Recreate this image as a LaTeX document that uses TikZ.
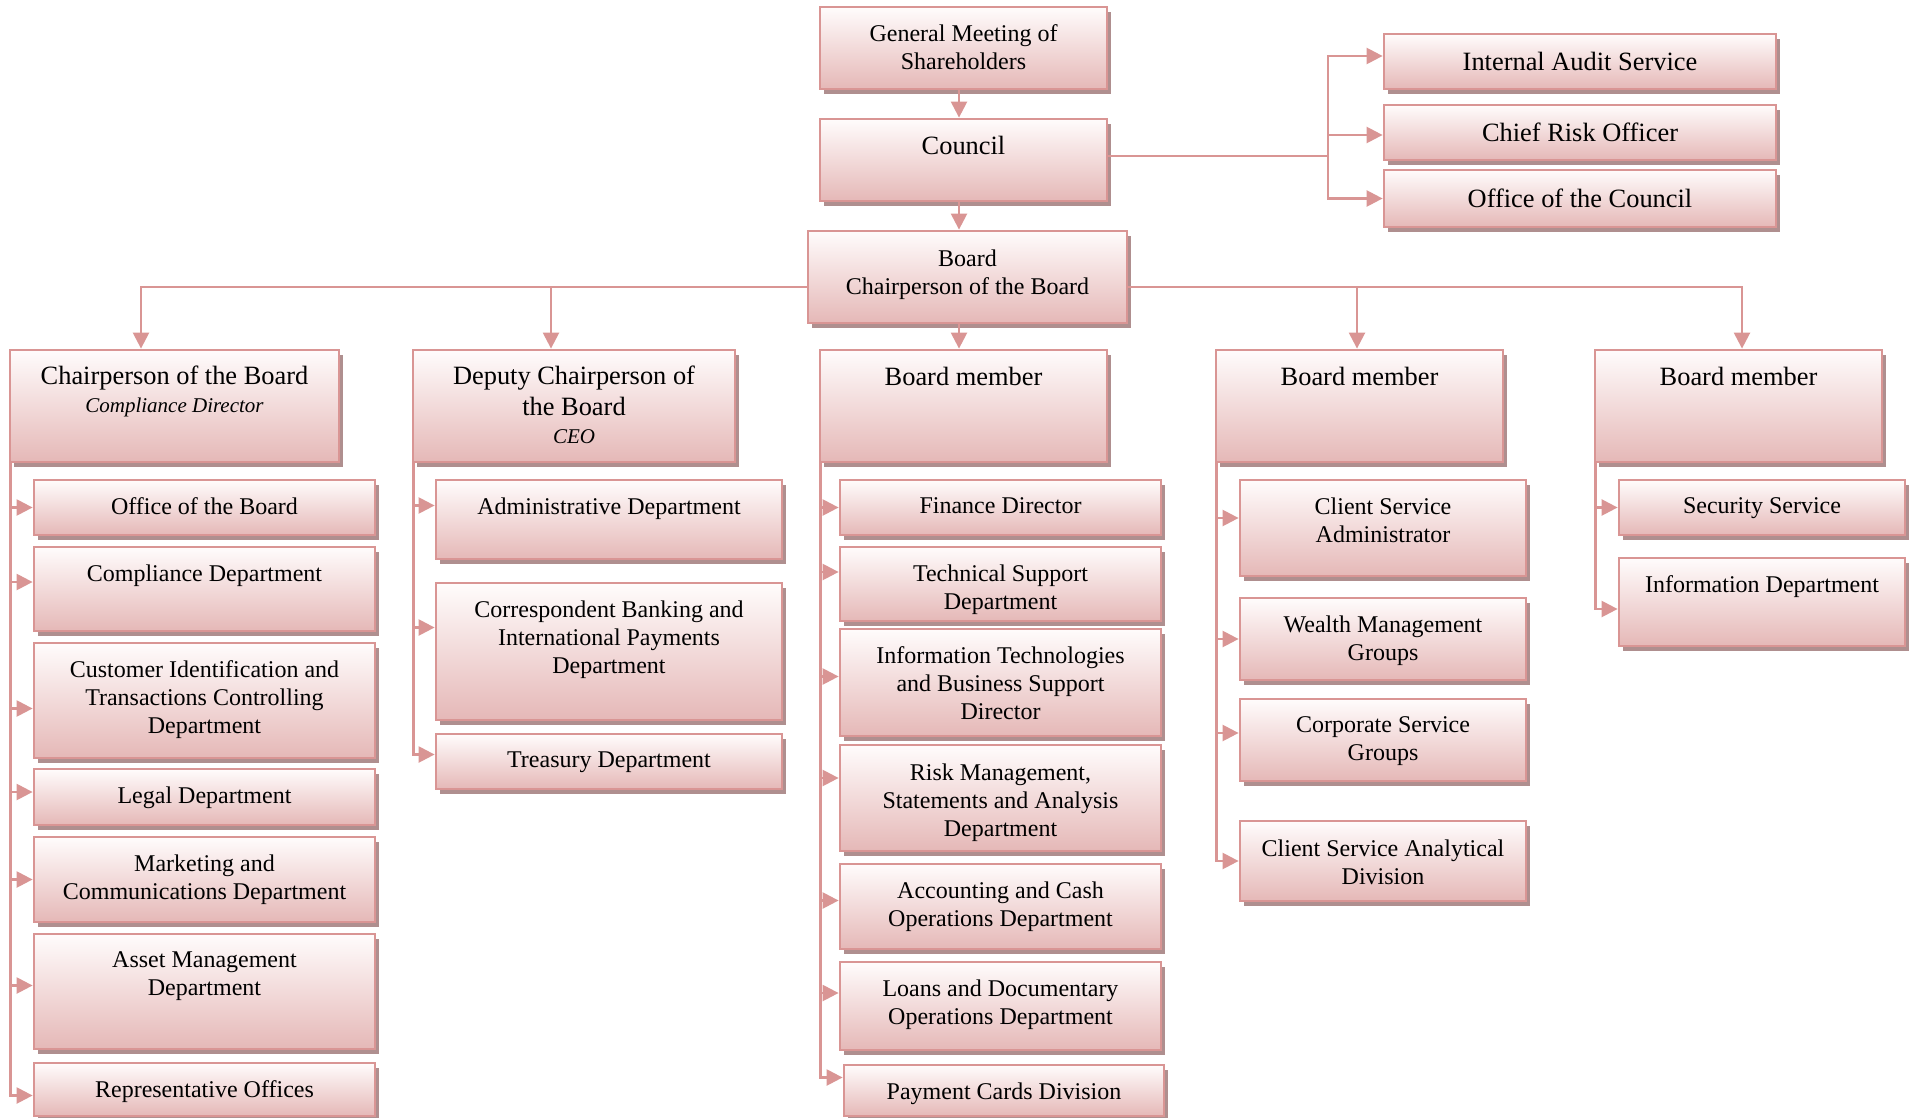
\documentclass[tikz,border=0pt]{standalone}
\usepackage{fontspec}
\setmainfont{Liberation Serif}
\usetikzlibrary{arrows.meta,fit,shadows}
\definecolor{bd}{RGB}{217,149,148}
\definecolor{fb}{RGB}{229,184,183}
\definecolor{ft}{RGB}{255,252,252}
\definecolor{shc}{RGB}{175,143,143}
\tikzset{
  obx/.style={draw=bd, line width=1.4pt, top color=ft, bottom color=fb,
    drop shadow={shadow xshift=2pt, shadow yshift=-2.5pt, fill=shc, opacity=1},
    inner sep=0pt},
  smalltxt/.style={font=\fontsize{12}{14}\selectfont, align=center, inner sep=0pt},
  bigtxt/.style={font=\fontsize{13.2}{15.2}\selectfont, align=center, inner sep=0pt},
  conn/.style={draw=bd, line width=1.2pt},
  arr/.style={conn, -{Triangle[length=8pt,width=8pt]}},
}
% name, x1, y1, x2, y2, text style, yshift of text, text
\newcommand\obox[8]{%
  \node[obx, fit={(#2,#3)(#4,#5)}] (#1) {};
  \node[#6, anchor=north] (#1-t) at ([yshift=#7-1.8pt]#1.north) {#8};
}
\begin{document}
\begin{tikzpicture}[x=0.5pt,y=-0.5pt]
\useasboundingbox (0,0) rectangle (1910,1118);
% top
\obox{gm}{820}{7}{1107}{89}{smalltxt}{-7.5pt}{General Meeting of\\Shareholders}
\obox{council}{820}{119}{1107}{201}{bigtxt}{-7.2pt}{Council}
\obox{board}{808}{231}{1127}{323}{smalltxt}{-8.2pt}{Board\\Chairperson of the Board}
\obox{ias}{1384}{34}{1776}{89}{bigtxt}{-7.7pt}{Internal Audit Service}
\obox{cro}{1384}{105}{1776}{160}{bigtxt}{-7.7pt}{Chief Risk Officer}
\obox{ooc}{1384}{170}{1776}{227}{bigtxt}{-8.2pt}{Office of the Council}
% level 2
\obox{chair}{10}{350}{339}{462}{bigtxt}{-6.8pt}{Chairperson of the Board\\[-1.2pt]{\fontsize{10.5}{12}\selectfont\itshape Compliance Director}}
\obox{dep}{413}{350}{735}{462}{bigtxt}{-6.8pt}{Deputy Chairperson of\\the Board\\[-1.2pt]{\fontsize{10.5}{12}\selectfont\itshape CEO}}
\obox{bm1}{820}{350}{1107}{462}{bigtxt}{-7.2pt}{Board member}
\obox{bm2}{1216}{350}{1503}{462}{bigtxt}{-7.2pt}{Board member}
\obox{bm3}{1595}{350}{1882}{462}{bigtxt}{-7.2pt}{Board member}
% column 1
\obox{c1a}{34}{480}{375}{535}{smalltxt}{-7.5pt}{Office of the Board}
\obox{c1b}{34}{547}{375}{631}{smalltxt}{-7.5pt}{Compliance Department}
\obox{c1c}{34}{643}{375}{758}{smalltxt}{-7.5pt}{Customer Identification and\\Transactions Controlling\\Department}
\obox{c1d}{34}{769}{375}{825}{smalltxt}{-7.5pt}{Legal Department}
\obox{c1e}{34}{837}{375}{922}{smalltxt}{-7.5pt}{Marketing and\\Communications Department}
\obox{c1f}{34}{934}{375}{1049}{smalltxt}{-7.5pt}{Asset Management\\Department}
\obox{c1g}{34}{1063}{375}{1116}{smalltxt}{-7.5pt}{Representative Offices}
% column 2
\obox{c2a}{436}{480}{782}{559}{smalltxt}{-7.5pt}{Administrative Department}
\obox{c2b}{436}{583}{782}{720}{smalltxt}{-7.5pt}{Correspondent Banking and\\International Payments\\Department}
\obox{c2c}{436}{734}{782}{789}{smalltxt}{-7.5pt}{Treasury Department}
% column 3
\obox{c3a}{840}{480}{1161}{535}{smalltxt}{-7.5pt}{Finance Director}
\obox{c3b}{840}{547}{1161}{621}{smalltxt}{-7.5pt}{Technical Support\\Department}
\obox{c3c}{840}{629}{1161}{736}{smalltxt}{-7.5pt}{Information Technologies\\and Business Support\\Director}
\obox{c3d}{840}{745}{1161}{851}{smalltxt}{-8.2pt}{Risk Management,\\Statements and Analysis\\Department}
\obox{c3e}{840}{864}{1161}{949}{smalltxt}{-7.5pt}{Accounting and Cash\\Operations Department}
\obox{c3f}{840}{962}{1161}{1050}{smalltxt}{-7.5pt}{Loans and Documentary\\Operations Department}
\obox{c3g}{844}{1065}{1164}{1116}{smalltxt}{-7.5pt}{Payment Cards Division}
% column 4
\obox{c4a}{1240}{480}{1526}{576}{smalltxt}{-7.5pt}{Client Service\\Administrator}
\obox{c4b}{1240}{598}{1526}{680}{smalltxt}{-7.5pt}{Wealth Management\\Groups}
\obox{c4c}{1240}{699}{1526}{781}{smalltxt}{-7.5pt}{Corporate Service\\Groups}
\obox{c4d}{1240}{821}{1526}{901}{smalltxt}{-8.2pt}{Client Service Analytical\\Division}
% column 5
\obox{c5a}{1619}{480}{1905}{535}{smalltxt}{-7.5pt}{Security Service}
\obox{c5b}{1619}{558}{1905}{646}{smalltxt}{-7.5pt}{Information Department}
% vertical spine
\draw[arr] ([xshift=-2.25pt]gm.south) -- ([xshift=-2.25pt]gm.south |- council.north);
\draw[arr] ([xshift=-2.25pt]council.south) -- ([xshift=-2.25pt]council.south |- board.north);
\draw[arr] ([xshift=-4.25pt]board.south) -- ([xshift=-4.25pt]board.south |- bm1.north);
% council to right
\coordinate (cj) at (1328,156);
\draw[conn] ([yshift=2pt]council.east) -- (cj);
\draw[arr] (cj) |- ([yshift=2.75pt]ias.west);
\draw[arr] (cj) |- ([yshift=-1.25pt]cro.west);
\draw[arr] (cj) |- (ooc.west);
% board to level 2
\draw[arr] ([yshift=-5pt]board.west) -| ([xshift=-16.75pt]chair.north);
\draw[arr] ([yshift=-5pt]board.west) -| ([xshift=-11.5pt]dep.north);
\draw[arr] ([yshift=-5pt]board.east) -| ([xshift=-1.25pt]bm2.north);
\draw[arr] ([yshift=-5pt]board.east) -| ([xshift=1.75pt]bm3.north);
% column 1 children
\draw[arr] ([xshift=1pt]chair.south west) |- (c1a.west);
\draw[arr] ([xshift=1pt]chair.south west) |- ([yshift=3.5pt]c1b.west);
\draw[arr] ([xshift=1pt]chair.south west) |- ([yshift=-4pt]c1c.west);
\draw[arr] ([xshift=1pt]chair.south west) |- ([yshift=2.5pt]c1d.west);
\draw[arr] ([xshift=1pt]chair.south west) |- (c1e.west);
\draw[arr] ([xshift=1pt]chair.south west) |- ([yshift=3pt]c1f.west);
\draw[arr] ([xshift=1pt]chair.south west) |- ([yshift=-3pt]c1g.west);
% column 2 children
\draw[arr] ([xshift=1pt]dep.south west) |- ([yshift=7pt]c2a.west);
\draw[arr] ([xshift=1pt]dep.south west) |- ([yshift=12pt]c2b.west);
\draw[arr] ([xshift=1pt]dep.south west) |- ([yshift=3.5pt]c2c.west);
% column 3 children
\draw[arr] ([xshift=1pt]bm1.south west) |- (c3a.west);
\draw[arr] ([xshift=1pt]bm1.south west) |- ([yshift=6pt]c3b.west);
\draw[arr] ([xshift=1pt]bm1.south west) |- ([yshift=3pt]c3c.west);
\draw[arr] ([xshift=1pt]bm1.south west) |- ([yshift=10pt]c3d.west);
\draw[arr] ([xshift=1pt]bm1.south west) |- ([yshift=3pt]c3e.west);
\draw[arr] ([xshift=1pt]bm1.south west) |- ([yshift=6.5pt]c3f.west);
\draw[arr] ([xshift=1pt]bm1.south west) |- ([yshift=6.5pt]c3g.west);
% column 4 children
\draw[arr] ([xshift=1pt]bm2.south west) |- ([yshift=5pt]c4a.west);
\draw[arr] ([xshift=1pt]bm2.south west) |- (c4b.west);
\draw[arr] ([xshift=1pt]bm2.south west) |- ([yshift=3.5pt]c4c.west);
\draw[arr] ([xshift=1pt]bm2.south west) |- (c4d.west);
% column 5 children
\draw[arr] ([xshift=1pt]bm3.south west) |- (c5a.west);
\draw[arr] ([xshift=1pt]bm3.south west) |- ([yshift=-3.5pt]c5b.west);
\end{tikzpicture}
\end{document}
